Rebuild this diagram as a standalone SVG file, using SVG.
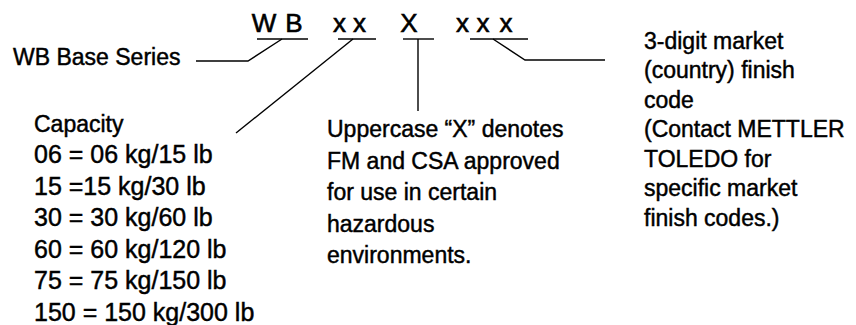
<svg xmlns="http://www.w3.org/2000/svg" width="856" height="325" viewBox="0 0 856 325">
<style>
text{font-family:"Liberation Sans",Arial,sans-serif;fill:#000;stroke:#000;stroke-width:0.45px}
.code{font-size:26px;text-anchor:middle;stroke-width:0.6px}
.lbl{font-size:23px}
.cap{font-size:25px}
.ln{fill:none;stroke:#000;stroke-width:1.4;stroke-linejoin:miter}
</style>
<rect width="856" height="325" fill="#fff"/>
<g id="code-WB">
<text class="code" x="264" y="32">W</text>
<text class="code" x="294" y="32">B</text>
</g>
<g id="code-xx">
<text class="code" x="339.5" y="32">x</text>
<text class="code" x="359.5" y="32">x</text>
</g>
<g id="code-X">
<text class="code" x="409" y="32">X</text>
</g>
<g id="code-xxx">
<text class="code" x="462.5" y="32">x</text>
<text class="code" x="483" y="32">x</text>
<text class="code" x="506" y="32">x</text>
</g>
<g id="label-base">
<text class="lbl" x="13" y="65">WB Base Series</text>
</g>
<g id="label-capacity">
<text class="lbl" x="34" y="131.5">Capacity</text>
<text class="cap" x="34" y="163">06 = 06 kg/15 lb</text>
<text class="cap" x="34" y="194.5">15 =15 kg/30 lb</text>
<text class="cap" x="34" y="226">30 = 30 kg/60 lb</text>
<text class="cap" x="34" y="257.5">60 = 60 kg/120 lb</text>
<text class="cap" x="34" y="289">75 = 75 kg/150 lb</text>
<text class="cap" x="34" y="320.5">150 = 150 kg/300 lb</text>
</g>
<g id="label-approval">
<text class="lbl" x="327" y="137.3">Uppercase “X” denotes</text>
<text class="lbl" x="327" y="168.5">FM and CSA approved</text>
<text class="lbl" x="327" y="200">for use in certain</text>
<text class="lbl" x="327" y="231.7">hazardous</text>
<text class="lbl" x="327" y="263.3">environments.</text>
</g>
<g id="label-finish">
<text class="lbl" x="644" y="48.5">3-digit market</text>
<text class="lbl" x="644" y="78">(country) finish</text>
<text class="lbl" x="644" y="107.5">code</text>
<text class="lbl" x="644" y="137">(Contact METTLER</text>
<text class="lbl" x="644" y="166.5">TOLEDO for</text>
<text class="lbl" x="644" y="196">specific market</text>
<text class="lbl" x="644" y="225.5">finish codes.)</text>
</g>
<g id="connectors">
<path class="ln" d="M257 39H308"/>
<path class="ln" d="M282 39L248 61H196"/>
<path class="ln" d="M338 39H376"/>
<path class="ln" d="M353 39L236 133"/>
<path class="ln" d="M403 39H434"/>
<path class="ln" d="M418 39V111"/>
<path class="ln" d="M470 39H528"/>
<path class="ln" d="M493 39L525 60H605"/>
</g>
</svg>
